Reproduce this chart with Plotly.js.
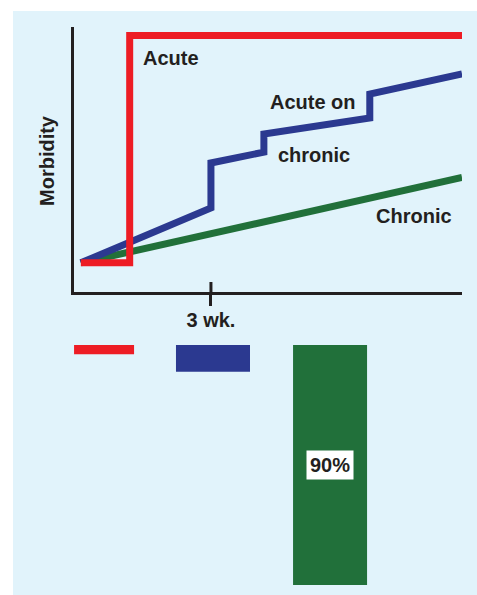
<!DOCTYPE html>
<html>
<head>
<meta charset="utf-8">
<script src="https://cdn.plot.ly/plotly-3.0.1.min.js"></script>
<style>html,body{margin:0;padding:0;background:#fff;}#chart{width:477px;height:595px;}</style>
</head>
<body>
<div id="chart"></div>
<script>
// ---- data (x in weeks, y in arbitrary morbidity units) ----
const acuteX = [0.15, 1.22, 1.22, 8.5];
const acuteY = [11, 11, 96.8, 96.8];
const acuteOnChronicX = [0.15, 3.0, 3.0, 4.16, 4.16, 6.48, 6.48, 8.5];
const acuteOnChronicY = [11, 31.7, 48.7, 52.8, 59.6, 65.7, 74.7, 82.3];
const chronicX = [0.15, 8.5];
const chronicY = [11, 43.2];
const tickVals = [3];
const tickText = ['3 wk.'];
const barCategories = ['Acute', 'Acute on chronic', 'Chronic'];
const barValues = [3.5, 10, 90];
const barLabelIndex = 2;

const RED = '#ed1c24', BLUE = '#2b3990', GREEN = '#21703a', INK = '#231f20';
const W = 477, H = 595;
const px = v => v / W, py = v => (H - v) / H;
const FONT = {family: 'Liberation Sans, Arial, sans-serif', size: 20, color: INK, weight: 'bold'};

const traces = [
  {x: chronicX, y: chronicY, type: 'scatter', mode: 'lines', name: 'Chronic',
   line: {color: GREEN, width: 7}, xaxis: 'x', yaxis: 'y', hoverinfo: 'skip'},
  {x: acuteOnChronicX, y: acuteOnChronicY, type: 'scatter', mode: 'lines', name: 'Acute on chronic',
   line: {color: BLUE, width: 7}, xaxis: 'x', yaxis: 'y', hoverinfo: 'skip'},
  {x: acuteX, y: acuteY, type: 'scatter', mode: 'lines', name: 'Acute',
   line: {color: RED, width: 7}, xaxis: 'x', yaxis: 'y', hoverinfo: 'skip'},
  {x: barCategories, y: barValues, type: 'bar', xaxis: 'x2', yaxis: 'y2',
   marker: {color: [RED, BLUE, GREEN], line: {width: 0}},
   width: [0.531, 0.655, 0.655], offset: [-0.265, -0.363, -0.327], hoverinfo: 'skip'}
];

const layout = {
  width: W, height: H,
  margin: {l: 0, r: 0, t: 0, b: 0},
  paper_bgcolor: '#ffffff', plot_bgcolor: 'rgba(0,0,0,0)',
  showlegend: false,
  font: FONT,
  xaxis: {domain: [px(74), px(462)], range: [0, 8.5], showgrid: false, zeroline: false,
    showline: true, linecolor: INK, linewidth: 3, ticks: 'outside', ticklen: 11, tickwidth: 3, tickcolor: INK,
    tickvals: tickVals, ticktext: tickText, tickfont: FONT, ticklabelstandoff: -3, anchor: 'y', fixedrange: true},
  yaxis: {domain: [py(292), py(27)], range: [0, 100], showgrid: false, zeroline: false,
    showline: true, linecolor: INK, linewidth: 3, ticks: '', showticklabels: false, anchor: 'x', fixedrange: true},
  xaxis2: {domain: [px(47.5), px(386.5)], range: [-0.5, 2.5], type: 'category', visible: false, anchor: 'y2'},
  yaxis2: {domain: [py(590.3), py(345)], range: [92, 0], visible: false, anchor: 'x2'},
  shapes: [
    {type: 'rect', xref: 'paper', yref: 'paper', x0: px(13), x1: 1, y0: 0, y1: py(11),
     fillcolor: '#e1f3fb', line: {width: 0}, layer: 'below'},
    {type: 'line', xref: 'x', yref: 'paper', x0: tickVals[0], x1: tickVals[0], y0: py(292), y1: py(282),
     line: {color: INK, width: 3}}
  ],
  annotations: [
    {text: 'Morbidity', xref: 'paper', yref: 'paper', x: px(47), y: py(161), textangle: -90,
     xanchor: 'center', yanchor: 'middle', showarrow: false, font: FONT},
    {text: 'Acute', xref: 'x', yref: 'y', x: 2.12, y: 88.3, showarrow: false, font: FONT},
    {text: 'Acute on', xref: 'x', yref: 'y', x: 5.24, y: 71.7, showarrow: false, font: FONT},
    {text: 'chronic', xref: 'x', yref: 'y', x: 5.26, y: 51.7, showarrow: false, font: FONT},
    {text: 'Chronic', xref: 'x', yref: 'y', x: 7.44, y: 28.7, showarrow: false, font: FONT},
    {text: barValues[barLabelIndex] + '%', xref: 'x2', yref: 'y2', x: barCategories[barLabelIndex], y: 45,
     showarrow: false, font: FONT, bgcolor: '#ffffff', borderpad: 3}
  ]
};

Plotly.newPlot('chart', traces, layout, {staticPlot: true, displayModeBar: false});
</script>
</body>
</html>
